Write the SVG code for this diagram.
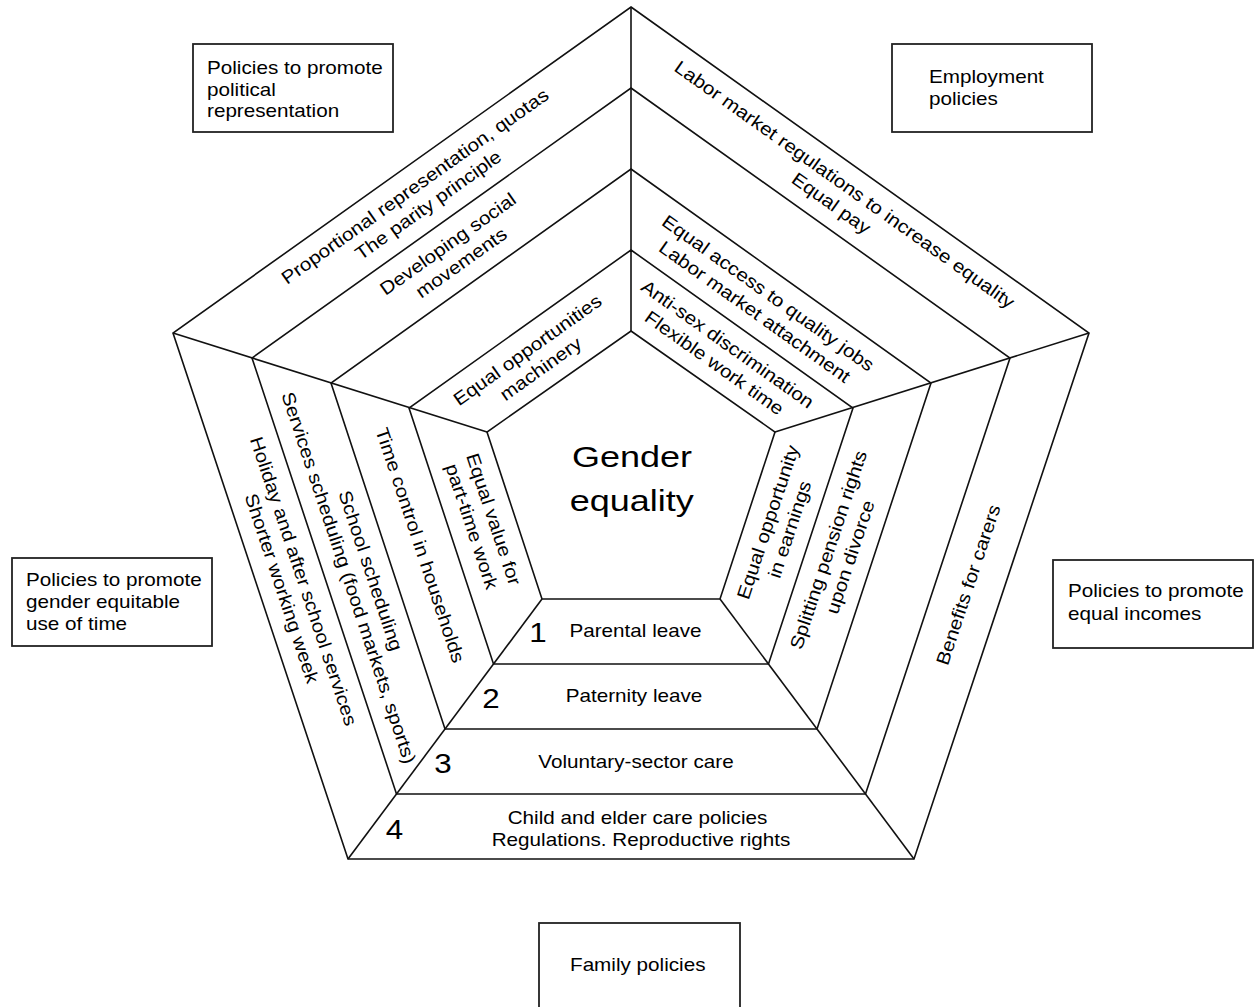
<svg xmlns="http://www.w3.org/2000/svg" width="1254" height="1007" viewBox="0 0 1254 1007">
<style>
  .frame { fill: none; stroke: #111; stroke-width: 1.6; stroke-linejoin: miter; }
  .box { fill: #fff; stroke: #222; stroke-width: 1.8; }
  text { font-family: "Liberation Sans", Arial, sans-serif; fill: #000; }
  .t { font-size: 18.3px; }
  .c { text-anchor: middle; }
  .num { font-size: 28px; text-anchor: middle; }
  .big { font-size: 30px; text-anchor: middle; }
</style>
<rect width="1254" height="1007" fill="#fff"/>

<g id="frame">
  <polygon class="frame" points="631,7 1089,333 914,859 348,859 173,333"/>
  <polygon class="frame" points="631,88 1010,358 865.5,794 396.5,794 252,358"/>
  <polygon class="frame" points="631,169 931,383 817,729 445,729 331,383"/>
  <polygon class="frame" points="631,250 853,408 768.5,664 493.5,664 409,408"/>
  <polygon class="frame" points="631,331 775,432 720,599 542,599 487,432"/>
</g>
<g id="connectors">
  <line class="frame" x1="631" y1="7" x2="631" y2="331"/>
  <line class="frame" x1="173" y1="333" x2="487" y2="432"/>
  <line class="frame" x1="1089" y1="333" x2="775" y2="432"/>
  <line class="frame" x1="348" y1="859" x2="542" y2="599"/>
  <line class="frame" x1="914" y1="859" x2="720" y2="599"/>
</g>

<g id="center">
  <text class="big" transform="translate(632,467) scale(1.2,1)">Gender</text>
  <text class="big" transform="translate(631.7,511) scale(1.2,1)">equality</text>
</g>

<!-- top-left side -->
<g id="tl-ring3" class="t c" transform="translate(422,196.3) rotate(-35.44) scale(1.13,1)">
  <text class="t c" y="-6">Proportional representation, quotas</text>
  <text class="t c" y="17">The parity principle</text>
</g>
<g id="tl-ring2" transform="translate(455,254) rotate(-35.44) scale(1.13,1)">
  <text class="t c" y="-6">Developing social</text>
  <text class="t c" y="17">movements</text>
</g>
<g id="tl-ring0" transform="translate(534.5,360) rotate(-35.44) scale(1.13,1)">
  <text class="t c" y="-6">Equal opportunities</text>
  <text class="t c" y="17">machinery</text>
</g>

<!-- top-right side -->
<g id="tr-ring3" transform="translate(837.5,194.5) rotate(35.44) scale(1.13,1)">
  <text class="t c" y="-6">Labor market regulations to increase equality</text>
  <text class="t c" y="17">Equal pay</text>
</g>
<g id="tr-ring1" transform="translate(761,303) rotate(35.44) scale(1.13,1)">
  <text class="t c" y="-6">Equal access to quality jobs</text>
  <text class="t c" y="17">Labor market attachment</text>
</g>
<g id="tr-ring0" transform="translate(720.5,354) rotate(35.44) scale(1.13,1)">
  <text class="t c" y="-6">Anti-sex discrimination</text>
  <text class="t c" y="17">Flexible work time</text>
</g>

<!-- left side -->
<g id="l-ring3" transform="translate(292,585) rotate(71.6) scale(1.13,1)">
  <text class="t c" y="-6">Holiday and after school services</text>
  <text class="t c" y="17">Shorter working week</text>
</g>
<g id="l-ring2" transform="translate(359,574.5) rotate(71.6) scale(1.13,1)">
  <text class="t c" y="-6">School scheduling</text>
  <text class="t c" y="17">Services scheduling (food markets, sports)</text>
</g>
<g id="l-ring1" transform="translate(419.4,545.4) rotate(71.6) scale(1.13,1)">
  <text class="t c" y="5.5">Time control in households</text>
</g>
<g id="l-ring0" transform="translate(482,523) rotate(71.6) scale(1.13,1)">
  <text class="t c" y="-6">Equal value for</text>
  <text class="t c" y="17">part-time work</text>
</g>

<!-- right side -->
<g id="r-ring3" transform="translate(969,585) rotate(-71.6) scale(1.13,1)">
  <text class="t c" y="5.5">Benefits for carers</text>
</g>
<g id="r-ring1" transform="translate(840,553.7) rotate(-71.6) scale(1.13,1)">
  <text class="t c" y="-6">Splitting pension rights</text>
  <text class="t c" y="17">upon divorce</text>
</g>
<g id="r-ring0" transform="translate(779.5,526) rotate(-71.6) scale(1.13,1)">
  <text class="t c" y="-6">Equal opportunity</text>
  <text class="t c" y="17">in earnings</text>
</g>

<!-- bottom side -->
<g id="b-ring0">
  <text class="num" transform="translate(538,642) scale(1.12,1)">1</text>
  <text class="t c" transform="translate(635.5,637) scale(1.13,1)">Parental leave</text>
</g>
<g id="b-ring1">
  <text class="num" transform="translate(491,707.7) scale(1.12,1)">2</text>
  <text class="t c" transform="translate(634,702) scale(1.13,1)">Paternity leave</text>
</g>
<g id="b-ring2">
  <text class="num" transform="translate(443,773.3) scale(1.12,1)">3</text>
  <text class="t c" transform="translate(636,768) scale(1.13,1)">Voluntary-sector care</text>
</g>
<g id="b-ring3">
  <text class="num" transform="translate(394.5,839) scale(1.12,1)">4</text>
  <text class="t c" transform="translate(637.5,824) scale(1.13,1)">Child and elder care policies</text>
  <text class="t c" transform="translate(641,846) scale(1.13,1)">Regulations. Reproductive rights</text>
</g>

<!-- policy boxes -->
<g id="box-political">
  <rect class="box" x="193" y="44" width="200" height="88"/>
  <g transform="translate(207,74) scale(1.13,1)">
    <text class="t" x="0" y="0">Policies to promote</text>
    <text class="t" x="0" y="21.7">political</text>
    <text class="t" x="0" y="43.4">representation</text>
  </g>
</g>
<g id="box-employment">
  <rect class="box" x="892" y="44" width="200" height="88"/>
  <g transform="translate(929,83.3) scale(1.13,1)">
    <text class="t" x="0" y="0">Employment</text>
    <text class="t" x="0" y="21.7">policies</text>
  </g>
</g>
<g id="box-time">
  <rect class="box" x="12" y="558" width="200" height="88"/>
  <g transform="translate(26,585.7) scale(1.13,1)">
    <text class="t" x="0" y="0">Policies to promote</text>
    <text class="t" x="0" y="22.4">gender equitable</text>
    <text class="t" x="0" y="44.8">use of time</text>
  </g>
</g>
<g id="box-incomes">
  <rect class="box" x="1053" y="560" width="200" height="88"/>
  <g transform="translate(1068,597.3) scale(1.13,1)">
    <text class="t" x="0" y="0">Policies to promote</text>
    <text class="t" x="0" y="22.5">equal incomes</text>
  </g>
</g>
<g id="box-family">
  <rect class="box" x="539" y="923" width="201" height="88"/>
  <text class="t" transform="translate(570,971) scale(1.13,1)">Family policies</text>
</g>
</svg>
